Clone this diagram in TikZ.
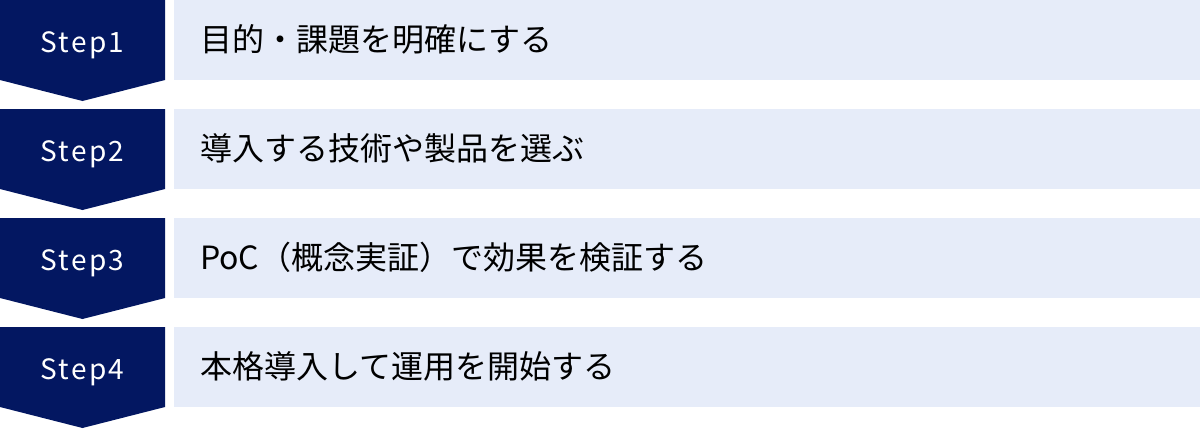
\documentclass[tikz,border=0pt]{standalone}
\usepackage{fontspec}
\setmainfont{Noto Sans CJK JP}
\newfontfamily\stepfont[LetterSpace=8]{Noto Sans CJK JP}
\definecolor{stepdark}{HTML}{031761}
\definecolor{steplight}{HTML}{E6ECF9}
\begin{document}
\begin{tikzpicture}[x=1pt,y=-1pt,
  chev/.style={fill=stepdark,draw=none},
  band/.style={fill=steplight,draw=none},
  steplabel/.style={text=white,inner sep=0pt,anchor=base,font=\stepfont\fontsize{28}{30}\selectfont},
  desc/.style={text=black,inner sep=0pt,anchor=base west,font=\fontsize{32}{36}\selectfont}]
\useasboundingbox (0,0) rectangle (1200,429);
\foreach \i/\lab/\txt in {0/Step1/目的・課題を明確にする,1/Step2/導入する技術や製品を選ぶ,2/Step3/PoC（概念実証）で効果を検証する,3/Step4/本格導入して運用を開始する}{
  \pgfmathsetmacro{\t}{109*\i}
  \fill[chev] (0,\t) -- (165,\t) -- (165,\t+80) -- (82.5,\t+101) -- (0,\t+80) -- cycle;
  \fill[band] (174,\t) rectangle (1200,\t+80);
  \node[steplabel] (s\i) at (82.5,\t+52) {\lab};
  \node[desc] (d\i) at (200,\t+51) {\txt};
}
\end{tikzpicture}
\end{document}
